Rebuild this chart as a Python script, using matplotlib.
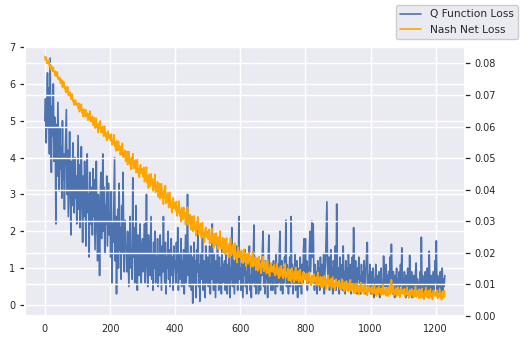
import numpy as np
import matplotlib
matplotlib.use('Agg')
import matplotlib.pyplot as plt
import seaborn as sns

step = 2
q_loss = [
    5.0, 5.6, 4.4, 5.2, 6.3, 4.8, 5.9, 4.1, 6.7, 5.1, 3.6, 5.4, 4.6, 6.0, 3.9, 5.1, 4.4, 2.2, 4.9, 3.5, 5.5, 4.2, 3.1, 4.8, 3.7,
    4.3, 2.9, 5.0, 3.4, 4.1, 2.6, 3.8, 4.6, 5.3, 3.0, 4.2, 2.4, 3.6, 4.7, 3.1, 1.9, 3.9, 2.7, 4.4, 3.2, 2.5, 4.0, 2.9, 3.5, 2.2,
    3.4, 4.6, 2.6, 3.8, 2.1, 3.1, 4.3, 2.8, 1.7, 3.5, 2.4, 3.9, 2.9, 1.6, 3.3, 4.1, 2.5, 3.0, 1.3, 3.6, 2.2, 3.2, 2.7, 1.9, 3.7,
    2.4, 3.4, 1.5, 2.8, 3.9, 2.1, 1.2, 3.0, 2.5, 0.8, 2.9, 3.6, 1.8, 2.6, 4.1, 2.0, 3.2, 1.4, 2.7, 2.2, 3.5, 1.6, 2.4, 3.3, 1.9,
    2.5, 1.3, 3.1, 0.6, 2.2, 1.7, 2.8, 4.0, 1.2, 2.4, 0.3, 1.9, 2.6, 1.0, 3.3, 1.5, 2.1, 0.7, 2.7, 1.4, 3.6, 1.8, 0.9, 2.3, 1.6,
    1.6, 0.9, 2.0, 1.2, 0.5, 1.8, 2.4, 1.0, 1.5, 0.7, 3.45, 1.3, 2.1, 0.6, 1.7, 2.7, 1.1, 0.4, 1.9, 1.4, 0.8, 2.2, 1.2, 0.6, 1.6,
    1.8, 0.9, 1.3, 2.2, 0.6, 1.5, 3.0, 1.1, 0.5, 1.9, 1.2, 0.8, 1.6, 2.4, 0.7, 1.4, 0.4, 1.7, 1.0, 2.0, 0.6, 1.3, 0.9, 1.8, 0.5,
    1.4, 0.8, 1.9, 1.1, 0.4, 1.6, 0.9, 2.4, 1.2, 0.6, 1.7, 0.3, 1.3, 1.0, 2.0, 0.7, 1.5, 0.5, 1.1, 1.8, 0.8, 1.3, 0.4, 1.6, 1.0,
    1.2, 0.6, 1.7, 0.9, 2.1, 0.4, 1.4, 1.0, 0.7, 1.8, 0.5, 1.2, 0.9, 1.5, 0.3, 1.1, 1.9, 0.6, 1.3, 3.0, 0.8, 1.4, 0.5, 1.0, 1.6,
    0.4, 1.3, 0.05, 1.0, 1.7, 0.6, 1.2, 0.2, 1.5, 0.9, 2.1, 0.5, 1.1, 0.1, 1.4, 0.7, 1.0, 1.8, 0.4, 1.2, 0.8, 0.2, 1.6, 0.6, 1.0,
    1.3, 0.5, 0.9, 1.6, 0.3, 1.1, 0.7, 2.2, 1.0, 0.4, 1.4, 0.8, 0.2, 1.2, 0.6, 1.7, 0.9, 0.4, 1.3, 0.7, 1.0, 0.3, 1.5, 0.6, 1.1,
    0.7, 1.2, 0.4, 1.5, 0.9, 0.3, 1.1, 0.6, 1.4, 0.2, 1.0, 0.7, 2.1, 0.5, 1.3, 0.8, 0.3, 1.2, 0.6, 1.6, 0.9, 0.4, 1.1, 2.4, 0.7,
    1.0, 0.4, 1.3, 0.7, 0.2, 1.1, 0.8, 1.5, 0.5, 0.9, 0.3, 1.2, 0.6, 1.0, 1.6, 0.4, 0.8, 0.2, 1.1, 0.6, 1.3, 2.17, 0.5, 0.9, 0.3,
    1.1, 0.6, 0.9, 0.3, 1.3, 0.7, 0.4, 1.2, 0.8, 1.5, 2.0, 0.5, 1.0, 0.3, 1.2, 0.7, 0.9, 0.2, 1.4, 1.9, 0.6, 1.0, 0.4, 1.1, 0.7,
    0.4, 1.2, 0.7, 1.0, 0.3, 1.4, 0.8, 0.5, 1.1, 0.6, 1.5, 2.0, 0.4, 0.9, 1.2, 0.3, 1.0, 0.6, 1.3, 0.8, 2.3, 0.5, 1.1, 0.7, 0.3,
    0.9, 1.3, 0.5, 2.4, 0.8, 1.1, 0.3, 1.0, 0.6, 1.4, 0.4, 0.9, 1.2, 0.2, 0.8, 1.0, 0.5, 1.3, 0.7, 0.3, 1.1, 0.6, 1.5, 1.8, 0.9,
    1.8, 0.7, 1.2, 0.4, 1.0, 0.6, 1.4, 2.0, 0.9, 1.6, 2.28, 1.3, 2.2, 0.8, 0.4, 1.1, 0.6, 0.9, 0.3, 1.2, 0.7, 1.0, 0.4, 1.3, 0.8,
    0.5, 1.1, 0.7, 1.4, 0.3, 0.9, 1.2, 2.0, 2.8, 1.0, 0.6, 1.3, 0.4, 0.8, 1.5, 0.5, 1.0, 0.3, 1.2, 0.7, 0.9, 1.6, 0.4, 2.74, 1.1,
    0.6, 1.0, 0.3, 1.3, 0.8, 0.5, 1.1, 0.4, 1.6, 0.7, 0.9, 0.3, 1.2, 0.6, 1.0, 0.4, 1.4, 0.8, 0.5, 1.1, 0.3, 0.9, 1.3, 0.6, 2.1,
    0.9, 0.4, 1.2, 0.6, 0.3, 1.0, 0.7, 1.3, 0.5, 0.8, 0.3, 1.1, 0.6, 0.9, 0.4, 1.2, 0.7, 0.3, 1.0, 1.4, 1.7, 0.5, 0.8, 0.4, 1.1,
    0.6, 0.3, 0.9, 0.5, 1.0, 0.2, 0.7, 0.4, 1.1, 0.6, 0.3, 0.8, 0.5, 0.9, 0.2, 0.7, 1.0, 0.4, 0.6, 0.3, 1.33, 0.8, 0.5, 0.9, 1.1,
    0.5, 0.8, 0.3, 0.9, 0.6, 1.3, 0.4, 1.65, 0.7, 0.3, 0.9, 0.5, 0.2, 0.8, 0.6, 1.0, 0.3, 0.7, 0.4, 0.9, 0.5, 1.1, 0.6, 1.55, 0.4,
    0.7, 0.3, 0.9, 0.5, 0.2, 0.8, 0.4, 1.0, 0.6, 0.3, 1.35, 0.7, 0.4, 0.9, 0.2, 0.6, 0.8, 0.3, 0.5, 0.9, 1.14, 0.4, 0.7, 0.3, 0.6,
    0.5, 0.9, 0.3, 1.84, 0.6, 0.8, 0.2, 0.7, 0.4, 0.9, 0.3, 0.6, 1.0, 0.5, 0.2, 1.46, 0.7, 0.4, 0.8, 0.3, 0.6, 0.9, 0.4, 0.7, 1.2,
    0.6, 1.74, 0.4, 0.8, 0.3, 0.7, 0.5, 0.9, 0.3, 0.6, 1.0, 0.4, 0.7, 0.5, 0.8,
]
# Nash net loss in units of 1e-4
nash_loss_e4 = [
    822, 811, 819, 801, 807, 800, 810, 791, 795, 780, 793, 784, 775, 787, 773, 776, 761, 772, 759, 773, 751, 755, 748, 755, 736,
    737, 748, 725, 736, 742, 721, 725, 708, 724, 712, 726, 700, 709, 698, 708, 686, 695, 703, 680, 683, 668, 683, 684, 668, 673,
    673, 658, 674, 647, 660, 651, 671, 643, 653, 631, 655, 643, 632, 653, 634, 642, 620, 640, 623, 649, 616, 625, 617, 632, 604,
    608, 628, 595, 615, 626, 597, 606, 581, 610, 594, 618, 581, 597, 583, 601, 570, 586, 601, 568, 576, 556, 581, 585, 563, 574,
    574, 555, 576, 542, 558, 547, 574, 538, 550, 523, 555, 538, 524, 553, 528, 538, 510, 536, 513, 547, 503, 517, 506, 525, 489,
    495, 521, 479, 505, 521, 483, 495, 464, 502, 482, 514, 466, 488, 470, 494, 454, 476, 496, 454, 465, 439, 473, 479, 451, 465,
    466, 441, 471, 425, 449, 435, 472, 423, 442, 405, 449, 429, 411, 450, 418, 433, 396, 433, 403, 449, 392, 410, 397, 425, 377,
    388, 419, 371, 400, 419, 375, 389, 354, 398, 375, 413, 357, 382, 362, 390, 343, 369, 392, 344, 357, 327, 367, 374, 341, 358,
    358, 333, 363, 317, 341, 327, 364, 317, 336, 299, 343, 323, 305, 344, 312, 327, 290, 327, 297, 345, 288, 306, 293, 321, 273,
    284, 315, 268, 298, 317, 273, 288, 254, 298, 276, 314, 259, 285, 265, 293, 247, 274, 297, 249, 264, 234, 274, 281, 250, 267,
    267, 243, 274, 229, 254, 240, 278, 231, 251, 215, 260, 241, 224, 263, 232, 248, 212, 250, 221, 269, 213, 231, 219, 248, 201,
    212, 244, 196, 227, 247, 203, 218, 185, 229, 207, 246, 191, 217, 198, 226, 181, 208, 231, 184, 199, 169, 210, 218, 186, 204,
    202, 181, 208, 169, 190, 179, 212, 172, 189, 158, 197, 180, 165, 200, 173, 186, 155, 188, 163, 205, 156, 173, 162, 187, 146,
    157, 184, 143, 170, 188, 151, 164, 135, 174, 155, 188, 141, 165, 148, 173, 134, 157, 178, 137, 150, 126, 161, 168, 141, 156,
    156, 138, 162, 128, 147, 138, 167, 131, 146, 119, 154, 140, 126, 159, 134, 147, 119, 150, 127, 165, 121, 137, 127, 150, 113,
    123, 148, 111, 136, 152, 119, 131, 106, 141, 124, 154, 113, 133, 119, 142, 107, 129, 147, 111, 123, 101, 133, 140, 116, 130,
    130, 114, 135, 105, 121, 113, 139, 107, 122, 97, 129, 115, 104, 133, 111, 122, 97, 124, 104, 138, 99, 113, 105, 124, 92,
    101, 123, 90, 113, 127, 97, 109, 85, 117, 103, 129, 92, 111, 98, 118, 87, 106, 124, 91, 102, 82, 111, 117, 95, 108,
    108, 93, 113, 84, 100, 92, 117, 87, 101, 77, 107, 94, 83, 111, 90, 101, 77, 103, 83, 115, 79, 92, 84, 103, 72,
    81, 101, 72, 91, 104, 79, 87, 68, 96, 82, 106, 74, 91, 78, 97, 70, 86, 101, 73, 83, 65, 90, 96, 77, 88,
    88, 75, 93, 68, 83, 76, 98, 72, 83, 63, 89, 79, 70, 93, 76, 86, 66, 88, 71, 99, 68, 79, 73, 90, 64,
    70, 89, 63, 81, 93, 69, 78, 115, 85, 73, 96, 66, 81, 71, 88, 63, 79, 93, 66, 75, 59, 83, 88, 71, 82,
    82, 69, 87, 62, 77, 70, 91, 65, 77, 57, 83, 73, 64, 86, 69, 79, 59, 81, 65, 93, 61, 72, 66, 83, 57,
    64, 83, 57, 75, 87, 62, 71, 53, 79, 67, 90, 60, 75, 64, 81, 56, 72, 86, 60, 69, 52, 76, 81, 64, 75,
    76, 63, 81, 56, 70, 63, 85, 59, 71, 51, 76, 66, 57, 80, 63,
]
nash_loss = np.array(nash_loss_e4) * 1e-4
episodes = np.arange(len(q_loss)) * step

sns.set_theme(style='darkgrid')
plt.rcParams['font.family'] = ['DejaVu Sans']

fig = plt.figure(figsize=(5.29, 3.43), dpi=100)
ax1 = fig.add_axes([25/529, 27/343, 440/529, 270/343])
ax1.plot(episodes, q_loss, color='#4c72b0', lw=1.2, label='Q Function Loss')
ax1.set_ylim(-0.3, 7.03)
ax1.set_xlim(-61, 1290)

ax2 = ax1.twinx()
ax2.plot(episodes, nash_loss, color='orange', lw=1.2, label='Nash Net Loss')
ax2.set_ylim(0, 0.0855)
ax2.set_yticks(np.arange(0, 0.081, 0.01))

for ax in (ax1, ax2):
    ax.tick_params(axis='x', length=0, labelsize=7, colors='#262626', pad=6)
    ax.tick_params(axis='y', length=3.5, width=0.9, labelsize=7, colors='#262626')

fig.legend(loc='upper right', bbox_to_anchor=(518/529, 1 - 5/343), borderaxespad=0,
           fontsize=7.7, facecolor='#eaeaf2', edgecolor='#cccccc', framealpha=1)

fig.savefig('out.png', dpi=100)
